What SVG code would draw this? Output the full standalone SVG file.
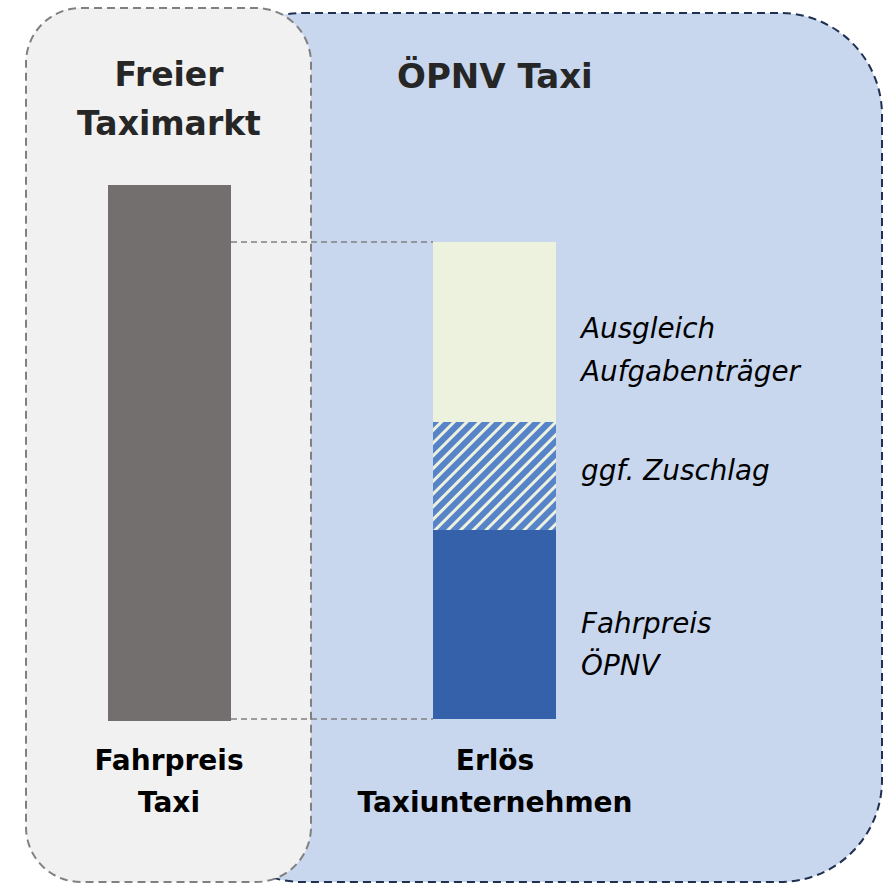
<svg xmlns="http://www.w3.org/2000/svg" width="892" height="883" viewBox="0 0 892 883">
<style>
.h{font-family:"DejaVu Sans","Liberation Sans",sans-serif;font-weight:bold;fill:#262626;}
.b{font-family:"DejaVu Sans","Liberation Sans",sans-serif;font-weight:bold;fill:#000;font-size:28px;text-anchor:middle;}
.i{font-family:"DejaVu Sans","Liberation Sans",sans-serif;font-style:italic;fill:#000;font-size:27.8px;}
.guide{stroke:#808080;stroke-width:1.5;stroke-dasharray:6 4;fill:none;}
</style>
<defs>
<pattern id="hatch" patternUnits="userSpaceOnUse" width="9" height="9" patternTransform="rotate(45)">
<rect width="9" height="9" fill="#EDF2DE"/>
<rect width="6" height="9" fill="#5783C8"/>
</pattern>
</defs>
<g id="opnv-box">
<rect x="200" y="13" width="682" height="869" rx="102" ry="102" fill="#C8D7EE" stroke="#1F3050" stroke-width="2" stroke-dasharray="8 5"/>
</g>
<g id="freier-box">
<rect x="26" y="8" width="285" height="874" rx="55" ry="55" fill="#F1F1F1" stroke="#808080" stroke-width="2" stroke-dasharray="8 5"/>
</g>
<g id="connectors">
<line class="guide" x1="231" y1="242" x2="433" y2="242"/>
<line class="guide" x1="231" y1="719" x2="433" y2="719"/>
</g>
<g id="bar-taxi">
<rect x="108" y="185" width="123" height="536" fill="#736F6E"/>
</g>
<g id="bar-opnv">
<rect x="433" y="242" width="123" height="180" fill="#EDF2DE"/>
<rect x="433" y="422" width="123" height="108" fill="url(#hatch)"/>
<rect x="433" y="530" width="123" height="189" fill="#3561AA"/>
</g>
<g id="titles">
<text class="h" x="169" y="86" font-size="33" text-anchor="middle">Freier</text>
<text class="h" x="169" y="135" font-size="33" text-anchor="middle">Taximarkt</text>
<text class="h" x="397" y="88" font-size="34">ÖPNV Taxi</text>
</g>
<g id="labels">
<text class="i" x="581" y="338">Ausgleich</text>
<text class="i" x="581" y="381">Aufgabenträger</text>
<text class="i" x="581" y="480">ggf. Zuschlag</text>
<text class="i" x="581" y="633">Fahrpreis</text>
<text class="i" x="581" y="675">ÖPNV</text>
<text class="b" x="169" y="770">Fahrpreis</text>
<text class="b" x="169" y="812">Taxi</text>
<text class="b" x="495" y="770">Erlös</text>
<text class="b" x="495" y="812" font-size="28.5">Taxiunternehmen</text>
</g>
</svg>
